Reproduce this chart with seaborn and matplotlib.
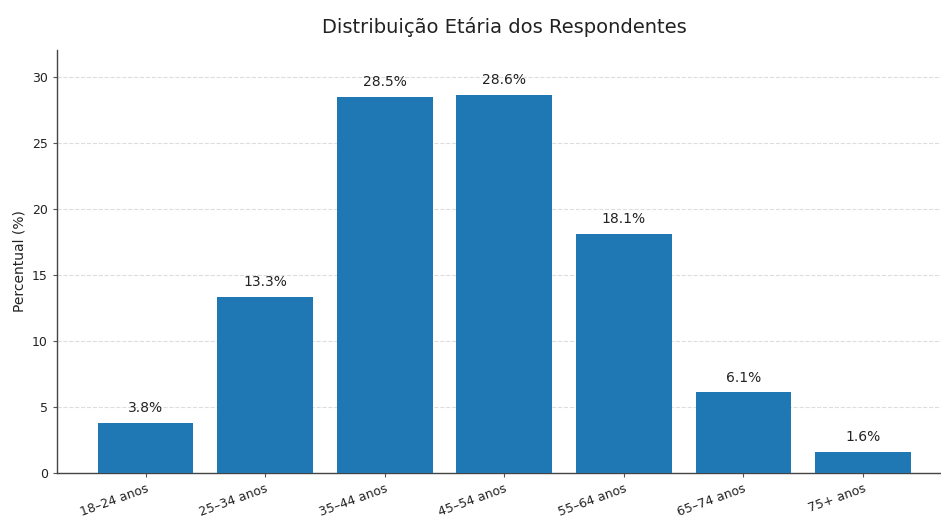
import matplotlib
matplotlib.use("Agg")
import matplotlib.pyplot as plt
import seaborn as sns
import pandas as pd

categories = ["18–24 anos", "25–34 anos", "35–44 anos", "45–54 anos",
              "55–64 anos", "65–74 anos", "75+ anos"]
values = [3.8, 13.3, 28.5, 28.6, 18.1, 6.1, 1.6]

df = pd.DataFrame({"Faixa": categories, "Percentual": values})

sns.set_style("white")
plt.rcParams['font.family'] = ['DejaVu Sans']

fig = plt.figure(figsize=(9.41, 5.19), dpi=100)
ax = fig.add_axes([57/941, 46/519, 894.6/941, 423/519])

sns.barplot(data=df, x="Faixa", y="Percentual", color="#1f77b4",
            saturation=1, width=0.8, ax=ax, zorder=3, linewidth=0,
            edgecolor="none")

ax.set_xlim(-0.74, 6.74)
ax.set_ylim(0, max(values) * 1.12)
ax.set_yticks([0, 5, 10, 15, 20, 25, 30])
ax.yaxis.grid(True, linestyle="--", color="#dddddd", linewidth=0.8, zorder=0)
ax.set_axisbelow(True)

for i, v in enumerate(values):
    ax.text(i, v + 0.6, f"{v:.1f}%", ha="center", va="bottom",
            fontsize=10, color="#222222")

ax.set_title("Distribuição Etária dos Respondentes", fontsize=14,
             color="#222222", pad=12)
ax.set_xlabel("")
ax.set_ylabel("Percentual (%)", fontsize=10, color="#222222")

for lbl in ax.get_xticklabels():
    lbl.set_rotation(20)
    lbl.set_ha("right")
    lbl.set_rotation_mode("anchor")
ax.tick_params(axis="x", labelsize=9, colors="#222222", length=3, color="#555555", bottom=True)
ax.tick_params(axis="y", labelsize=9, colors="#222222", length=3, color="#555555", left=True)

for s in ["top", "right"]:
    ax.spines[s].set_visible(False)
for s in ["left", "bottom"]:
    ax.spines[s].set_color("#444444")
    ax.spines[s].set_linewidth(1.0)

fig.savefig("out.png", dpi=100)
